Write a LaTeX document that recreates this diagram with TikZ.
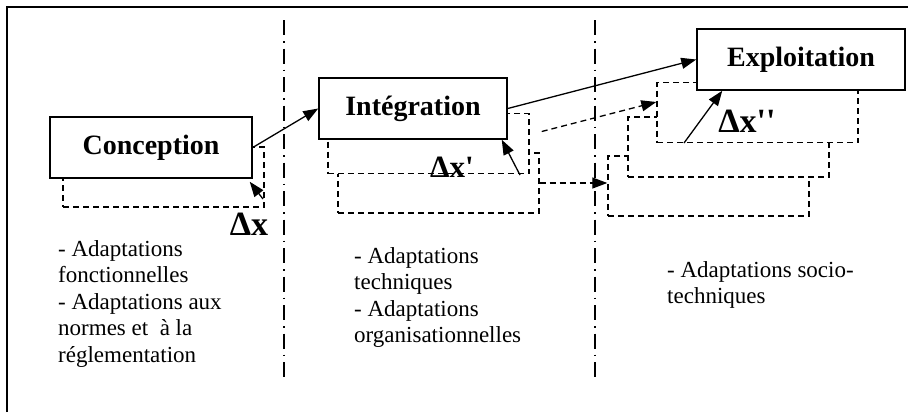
\documentclass[tikz,border=0pt]{standalone}
\usepackage{fontspec}
\setmainfont{Liberation Serif}
\usetikzlibrary{arrows.meta}

\begin{document}
\begin{tikzpicture}[x=1bp,y=-1bp,>={Triangle[length=15bp,width=11bp]},
	stage/.style={draw,fill=white,line width=1.5bp,minimum height=61bp,inner sep=0pt,font=\fontsize{28bp}{34bp}\selectfont\bfseries},
	shifted/.style={draw,dash pattern=on 6bp off 4bp,fill=white,line width=1.4bp,minimum width=201bp,minimum height=60bp,inner sep=0pt},
	delta/.style={inner sep=0pt,font=\fontsize{34bp}{40bp}\selectfont\bfseries},
	remark/.style={anchor=north west,align=left,inner sep=0pt,font=\fontsize{23bp}{26.5bp}\selectfont},
	phase/.style={line width=1.3bp,dash pattern=on 15bp off 6bp on 1.5bp off 6bp}]
	\useasboundingbox (0,0) rectangle (911,412);
	\draw[line width=2bp] (7,412) -- (7,7) -- (908,7);
	\draw[phase] (284,20) -- (284,383);
	\draw[phase] (595,20) -- (595,383);
	
	\node[shifted] (cshift) at (163.5,177) {};
	\node[stage,minimum width=202bp] (conc) at (151,147.5) {Conception};
	
	\node[shifted] (ishift2) at (438.5,183) {};
	\node[shifted] (ishift1) at (428.5,143.5) {};
	\node[stage,minimum width=188bp] (intg) at (413,108.5) {Intégration};
	
	\node[shifted] (eshift3) at (708.5,186) {};
	\node[shifted] (eshift2) at (728.5,147) {};
	\node[shifted] (eshift1) at (757.5,112.5) {};
	\node[stage,minimum width=208bp] (expl) at (801,59.5) {Exploitation};
	
	\draw[->,line width=1.3bp] (conc.east) -- (intg.west);
	\draw[->,line width=1.3bp] (intg.east) -- (expl.west);
	\draw[->,line width=1.3bp,dash pattern=on 6bp off 4bp] ([shift={(12,-12)}]ishift1.east) -- ([yshift=10.5bp]eshift1.west);
	\draw[->,line width=1.3bp,dash pattern=on 6bp off 4bp] (ishift2.east) -- (ishift2.east -| eshift3.west);
	
	\coordinate (ctail) at (263,199);
	\coordinate (itail) at (520,175);
	\coordinate (etail) at (684,143);
	\draw[->,line width=1.3bp] (ctail) -- ([shift={(-3,3)}]conc.south east);
	\draw[->,line width=1.3bp] (itail) -- ([xshift=-6bp]intg.south east);
	\draw[->,line width=1.3bp] (etail) -- ([xshift=26bp]expl.south west);
	
	\node[delta] (dx) at (249,224) {Δx};
	\node[delta,font=\fontsize{31bp}{36bp}\selectfont\bfseries] (dxi) at (452,167) {Δx\textquotesingle};
	\node[delta] (dxe) at (747,121) {Δx\textquotesingle\textquotesingle};
	
	\node[remark] (rconc) at (58,240) {- Adaptations\\fonctionnelles\\- Adaptations aux\\normes et~ à la\\réglementation};
	\node[remark] (rintg) at (354,247) {- Adaptations\\techniques\\- Adaptations\\organisationnelles};
	\node[remark] (rexpl) at (667,261) {- Adaptations socio-\\techniques};
\end{tikzpicture}
\end{document}
